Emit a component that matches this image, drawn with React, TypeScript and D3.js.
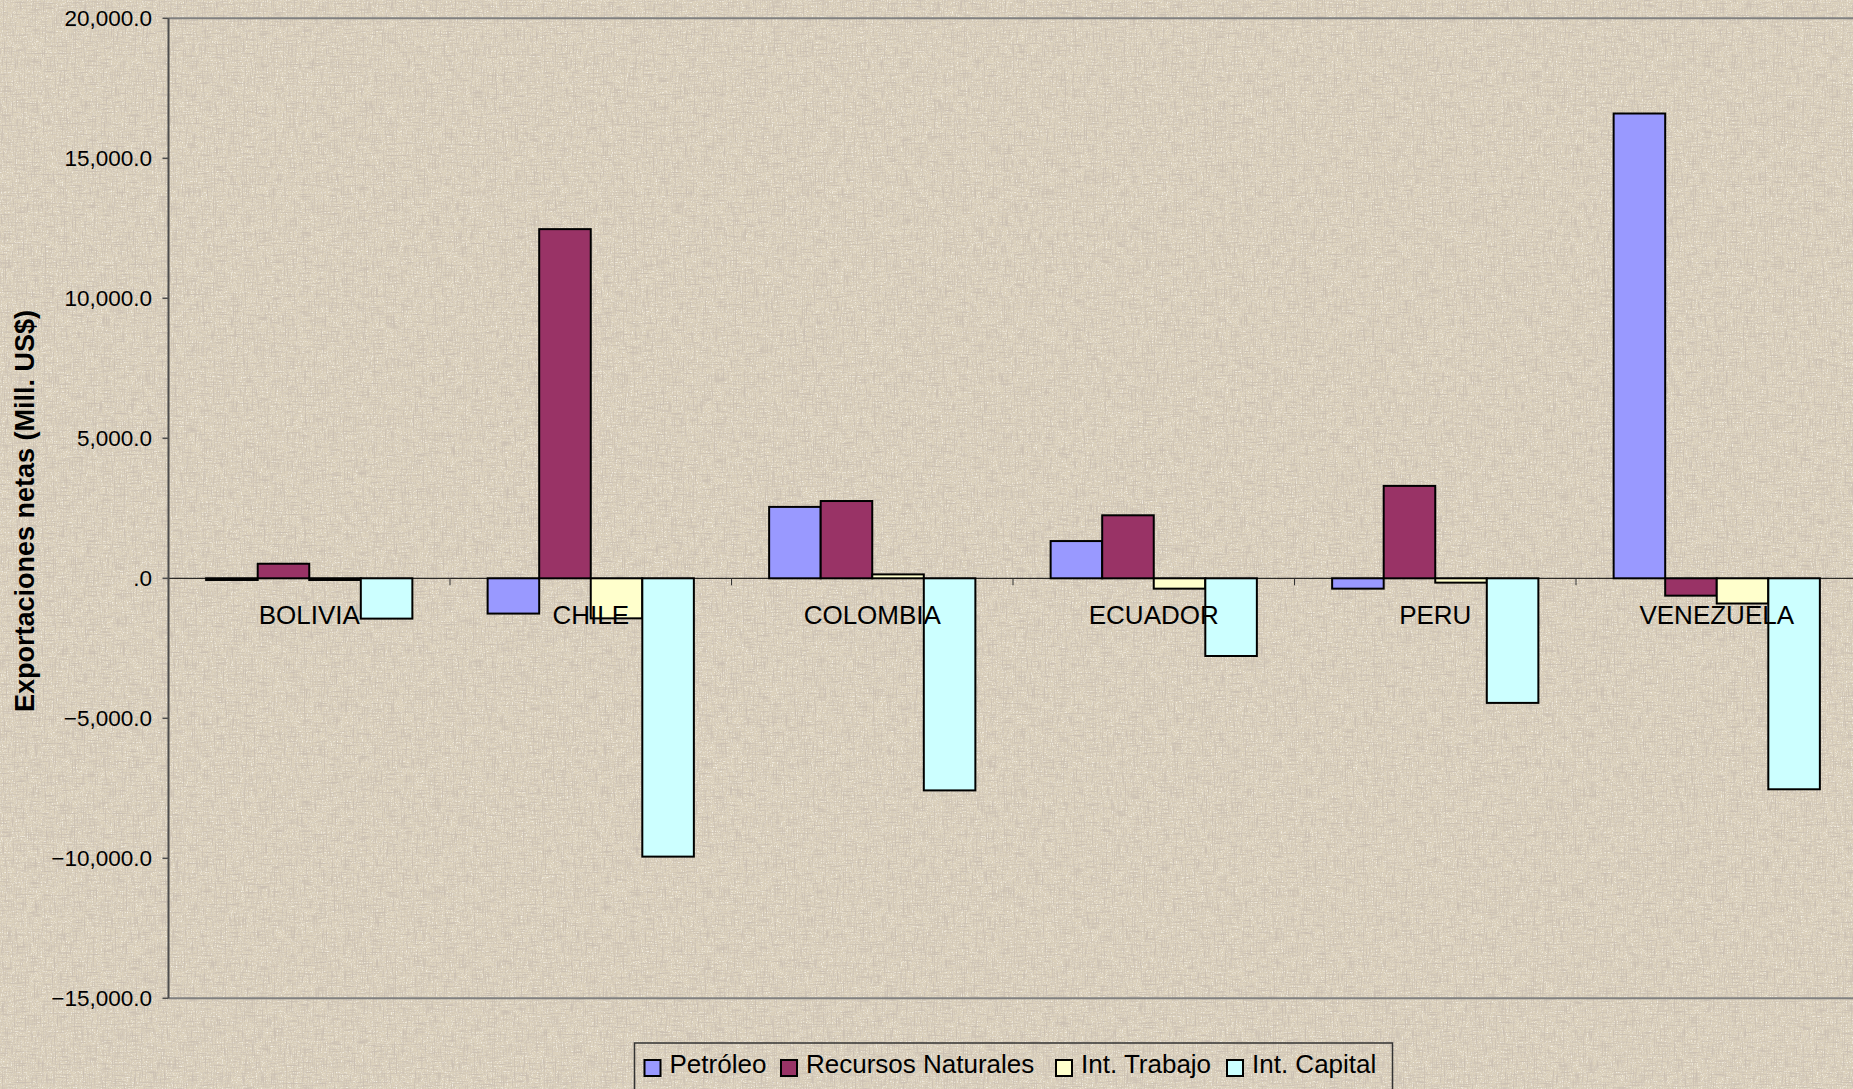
import React from "react";
import * as d3 from "d3";

const countries = ["BOLIVIA", "CHILE", "COLOMBIA", "ECUADOR", "PERU", "VENEZUELA"];
const seriesNames = ["Petróleo", "Recursos Naturales", "Int. Trabajo", "Int. Capital"];
const petroleo = [-60, -1260, 2550, 1330, -370, 16600];
const recursos = [520, 12470, 2760, 2250, 3300, -620];
const trabajo = [-60, -1430, 140, -370, -155, -900];
const capital = [-1440, -9940, -7575, -2775, -4450, -7535];
const yTicks = [20000, 15000, 10000, 5000, 0, -5000, -10000, -15000];

const colors = ["#9999ff", "#993366", "#ffffcc", "#ccffff"];
const W = 1853;
const H = 1089;
const font = "'Liberation Sans', Arial, sans-serif";

const values = [petroleo, recursos, trabajo, capital];

const App = () => {
  const left = 168.5;
  const right = 1857.5;
  const top = 18.3;
  const bottom = 998.3;

  const x0 = d3.scaleBand().domain(countries).range([left, right]);
  const x1 = d3
    .scaleBand()
    .domain(seriesNames)
    .range([0, x0.bandwidth()])
    .paddingInner(0)
    .paddingOuter(0.73);
  const y = d3.scaleLinear().domain([-15000, 20000]).range([bottom, top]);
  const fmt = d3.format(",.1f");
  const tickText = (v: number) => (v === 0 ? ".0" : fmt(v));

  // legend layout
  const legendStarts = [644.5, 781, 1056, 1227];

  return (
    <svg
      width={W}
      height={H}
      style={{ position: "absolute", left: 0, top: 0, display: "block" }}
      fontFamily={font}
    >
      <defs>
        <filter id="canvas" x="0" y="0" width="100%" height="100%">
          <feTurbulence type="fractalNoise" baseFrequency="0.9 0.07" numOctaves="2" seed="4" result="n1" />
          <feColorMatrix
            in="n1"
            type="matrix"
            values="0 0 0 0 0.6  0 0 0 0 0.53  0 0 0 0 0.45  3.2 0 0 0 -1.55"
            result="v"
          />
          <feTurbulence type="fractalNoise" baseFrequency="0.07 0.9" numOctaves="2" seed="9" result="n2" />
          <feColorMatrix
            in="n2"
            type="matrix"
            values="0 0 0 0 0.6  0 0 0 0 0.53  0 0 0 0 0.45  3.2 0 0 0 -1.55"
            result="h"
          />
          <feTurbulence type="fractalNoise" baseFrequency="0.8 0.8" numOctaves="1" seed="2" result="n3" />
          <feColorMatrix
            in="n3"
            type="matrix"
            values="0 0 0 0 0.96  0 0 0 0 0.93  0 0 0 0 0.87  -3 0 0 0 1.45"
            result="l"
          />
          <feMerge>
            <feMergeNode in="SourceGraphic" />
            <feMergeNode in="l" />
            <feMergeNode in="v" />
            <feMergeNode in="h" />
          </feMerge>
        </filter>
      </defs>

      <rect x={0} y={0} width={W} height={H} fill="#dcd1bc" filter="url(#canvas)" />

      {/* plot frame */}
      <line x1={left} x2={W} y1={top} y2={top} stroke="#808080" strokeWidth={2} />
      <line x1={left} x2={W} y1={bottom} y2={bottom} stroke="#808080" strokeWidth={2} />

      {/* zero line */}
      <line x1={left} x2={W} y1={y(0)} y2={y(0)} stroke="#000" strokeWidth={1} />
      {countries.map((c, i) => (
        <line
          key={"ct" + i}
          x1={(x0(c) as number) + x0.bandwidth()}
          x2={(x0(c) as number) + x0.bandwidth()}
          y1={y(0)}
          y2={y(0) + 7}
          stroke="#333"
          strokeWidth={1}
        />
      ))}

      {/* bars */}
      {countries.map((c, i) => (
        <g key={c} transform={`translate(${x0(c)},0)`}>
          {seriesNames.map((s, j) => {
            const v = values[j][i];
            const y0 = y(Math.max(0, v));
            const h = Math.abs(y(v) - y(0));
            return (
              <rect
                key={s}
                x={x1(s)}
                y={y0}
                width={x1.bandwidth()}
                height={h}
                fill={colors[j]}
                stroke="#000"
                strokeWidth={2}
              />
            );
          })}
        </g>
      ))}

      {/* y axis */}
      <line x1={left} x2={left} y1={top} y2={bottom} stroke="#4d4d4d" strokeWidth={2} />
      {yTicks.map((t) => (
        <g key={t}>
          <line x1={left - 6} x2={left} y1={y(t)} y2={y(t)} stroke="#4d4d4d" strokeWidth={1.5} />
          <text
            x={152}
            y={y(t)}
            dy="0.36em"
            textAnchor="end"
            fontSize={22.5}
            fill="#000"
          >
            {tickText(t)}
          </text>
        </g>
      ))}

      {/* category labels */}
      {countries.map((c) => (
        <text
          key={"l" + c}
          x={(x0(c) as number) + x0.bandwidth() / 2}
          y={624}
          textAnchor="middle"
          fontSize={26}
          fill="#000"
        >
          {c}
        </text>
      ))}

      {/* y title */}
      <text
        transform="translate(34,511) rotate(-90)"
        textAnchor="middle"
        fontSize={27}
        fontWeight="bold"
        fill="#000"
      >
        Exportaciones netas (Mill. US$)
      </text>

      {/* legend */}
      <rect x={634.5} y={1043} width={758} height={60} fill="none" stroke="#333" strokeWidth={1.5} />
      {seriesNames.map((s, j) => (
        <g key={"lg" + s}>
          <rect
            x={legendStarts[j]}
            y={1060}
            width={16}
            height={16}
            fill={colors[j]}
            stroke="#000"
            strokeWidth={2}
          />
          <text x={legendStarts[j] + 25} y={1073} fontSize={26} fill="#000">
            {s}
          </text>
        </g>
      ))}
    </svg>
  );
};

export default App;
